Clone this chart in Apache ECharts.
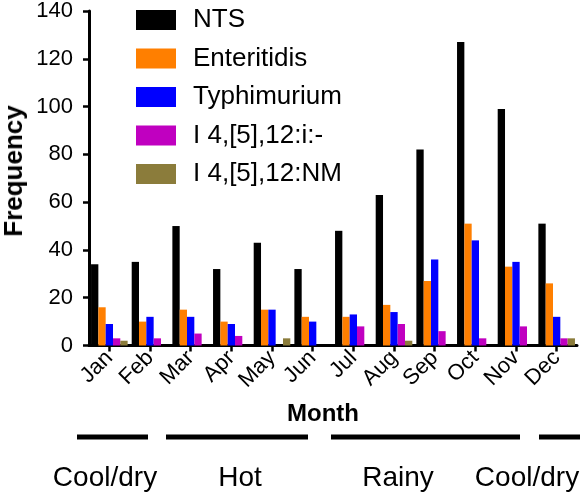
<!DOCTYPE html>
<html>
<head>
<meta charset="utf-8">
<script src="https://cdn.jsdelivr.net/npm/echarts@6/dist/echarts.min.js"></script>
<style>
html,body{margin:0;padding:0;background:#fff;}
#wrap{position:relative;width:584px;height:497px;}
#c{width:584px;height:497px;}
#ytitle{position:absolute;left:13px;top:171px;transform:translate(-50%,-50%) rotate(-90deg);font:bold 26px 'Liberation Sans', Arial, sans-serif;color:#000;white-space:nowrap;line-height:26px;}
</style>
</head>
<body>
<div id="wrap">
<div id="c"></div>
<div id="ytitle"></div>
</div>
<script>
const months = ['Jan','Feb','Mar','Apr','May','Jun','Jul','Aug','Sep','Oct','Nov','Dec'];
const seriesNames = ['NTS','Enteritidis','Typhimurium','I 4,[5],12:i:-','I 4,[5],12:NM'];
const nts         = [34, 35, 50, 32, 43, 32, 48, 63, 82, 127, 99, 51];
const enteritidis = [16, 10, 15, 10, 15, 12, 12, 17, 27, 51, 33, 26];
const typhimurium = [9, 12, 12, 9, 15, 10, 13, 14, 36, 44, 35, 12];
const mono_i      = [3, 3, 5, 4, 0, 0, 8, 9, 6, 3, 8, 3];
const mono_nm     = [2, 0, 0, 0, 3, 0, 0, 2, 0, 0, 0, 3];
const yTicks = [0, 20, 40, 60, 80, 100, 120, 140];
const xTitle = 'Month';
const yTitle = 'Frequency';
const seasons = ['Cool/dry','Hot','Rainy','Cool/dry'];

const colors = ['#000000','#ff7f00','#0000ff','#c000c0','#8b7c3b'];
const allData = [nts, enteritidis, typhimurium, mono_i, mono_nm];
const FONT = 'Liberation Sans, Arial, sans-serif';

document.getElementById('ytitle').textContent = yTitle;

const chart = echarts.init(document.getElementById('c'), null, {renderer:'canvas'});

const series = seriesNames.map((n,i)=>({
  name:n, type:'bar', data:allData[i],
  barGap:'0%', barCategoryGap:'10%',
  itemStyle:{color:colors[i]},
  emphasis:{disabled:true}
}));

// footer annotation: season bars and labels
const seasonLines = [[77,148],[166,308],[331,520],[539,580]];
const seasonCenters = [105,240,398,527];
const graphic = [];
seasonLines.forEach(s=>{
  graphic.push({type:'line', shape:{x1:s[0],y1:437,x2:s[1],y2:437}, style:{stroke:'#000',lineWidth:5}});
});
seasons.forEach((t,i)=>{
  graphic.push({type:'text', x:seasonCenters[i], y:478, style:{text:t, font:'28px '+FONT, fill:'#000', textAlign:'center', textVerticalAlign:'middle'}});
});
graphic.push({type:'text', x:323, y:414, style:{text:xTitle, font:'bold 24px '+FONT, fill:'#000', textAlign:'center', textVerticalAlign:'middle'}});

chart.setOption({
  animation:false,
  color:colors,
  grid:{left:89, right:7, top:10.5, bottom:151.5, containLabel:false},
  legend:{
    orient:'vertical', left:131, top:2,
    itemWidth:40, itemHeight:20, itemGap:12.5,
    icon:'rect',
    data:seriesNames,
    textStyle:{fontSize:26, fontFamily:FONT, color:'#000', lineHeight:26, padding:[0,0,0,12]},
    selectedMode:false
  },
  xAxis:{
    type:'category', data:months,
    axisLine:{show:true, lineStyle:{color:'#000', width:3}},
    axisTick:{show:true, alignWithLabel:true, length:6, lineStyle:{color:'#000', width:2.5}},
    axisLabel:{rotate:45, fontSize:22, fontFamily:FONT, color:'#000', margin:9, interval:0}
  },
  yAxis:{
    type:'value', min:yTicks[0], max:yTicks[yTicks.length-1], interval:20,
    axisLine:{show:true, lineStyle:{color:'#000', width:3}},
    axisTick:{show:true, length:6, lineStyle:{color:'#000', width:2.5}},
    splitLine:{show:false},
    axisLabel:{fontSize:22, fontFamily:FONT, color:'#000', margin:16}
  },
  series:series,
  graphic:graphic
});
</script>
</body>
</html>
